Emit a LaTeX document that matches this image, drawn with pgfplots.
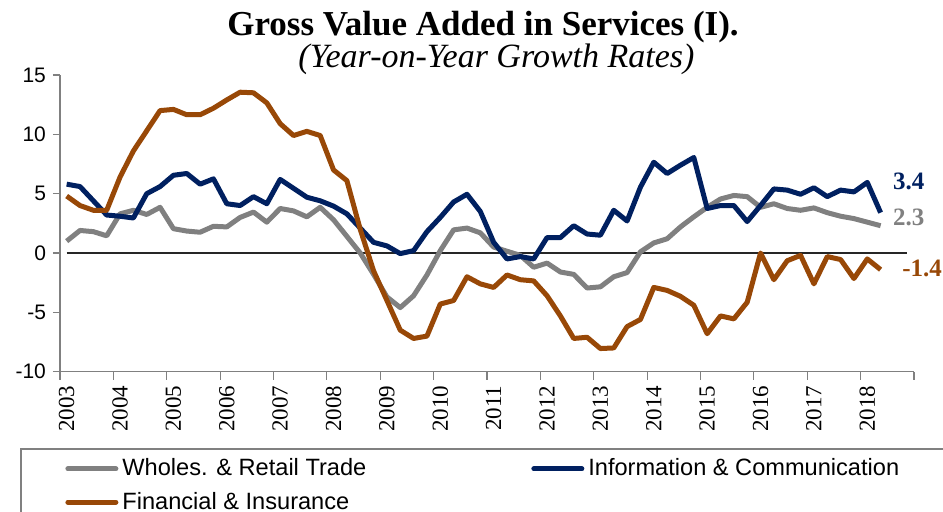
\documentclass[border=0pt]{standalone}
\usepackage{fontspec}
\usepackage{pgfplots}
\usepackage{pgfplotstable}
\pgfplotsset{compat=1.18}
\setmainfont{Liberation Serif}
\newfontfamily\arial{Liberation Sans}

\definecolor{wrgrey}{HTML}{808080}
\definecolor{icnavy}{HTML}{002060}
\definecolor{fibrown}{HTML}{984807}

% quarterly, 2003Q1 = 0
\pgfplotstableread{
k   wr     ic     fi
0   1.00   5.80   4.80
1   1.90   5.60   4.00
2   1.80   4.40   3.60
3   1.45   3.20   3.60
4   3.30   3.10   6.40
5   3.60   2.95   8.60
6   3.25   5.00   10.30
7   3.85   5.60   12.00
8   2.05   6.55   12.10
9   1.85   6.70   11.65
10  1.75   5.80   11.65
11  2.25   6.25   12.20
12  2.20   4.15   12.90
13  3.00   4.00   13.55
14  3.45   4.75   13.50
15  2.60   4.15   12.65
16  3.75   6.20   10.90
17  3.55   5.45   9.90
18  3.05   4.70   10.25
19  3.85   4.40   9.90
20  2.80   3.95   7.00
21  1.40   3.30   6.10
22  0.00   2.10   2.00
23  -1.80  0.90   -1.50
24  -3.70  0.60   -4.00
25  -4.60  -0.05  -6.50
26  -3.60  0.20   -7.20
27  -1.85  1.80   -7.00
28  0.20   3.00   -4.30
29  1.95   4.30   -4.00
30  2.10   4.95   -2.00
31  1.70   3.50   -2.60
32  0.50   0.90   -2.90
33  0.15   -0.50  -1.85
34  -0.20  -0.30  -2.25
35  -1.20  -0.50  -2.35
36  -0.85  1.30   -3.60
37  -1.60  1.30   -5.30
38  -1.80  2.30   -7.20
39  -2.95  1.60   -7.10
40  -2.85  1.50   -8.05
41  -2.00  3.60   -8.00
42  -1.65  2.70   -6.20
43  0.10   5.55   -5.60
44  0.85   7.65   -2.90
45  1.20   6.70   -3.15
46  2.20   7.40   -3.65
47  3.05   8.05   -4.40
48  3.85   3.75   -6.80
49  4.55   4.00   -5.30
50  4.85   4.00   -5.55
51  4.75   2.65   -4.15
52  3.85   4.00   0.00
53  4.15   5.40   -2.25
54  3.75   5.30   -0.65
55  3.60   4.95   -0.20
56  3.80   5.50   -2.60
57  3.40   4.75   -0.30
58  3.10   5.30   -0.55
59  2.90   5.15   -2.15
60  2.60   5.95   -0.50
61  2.30   3.40   -1.40
}\gva

\begin{document}
\begin{tikzpicture}
\path[use as bounding box] (-30pt,-70.15pt) rectangle (441.5pt,185.85pt);
\begin{axis}[
    scale only axis,
    width=427pt, height=148.35pt,
    xmin=-0.5, xmax=63.5,
    ymin=-10, ymax=15,
    clip=false,
    axis x line*=bottom,
    axis y line*=left,
    axis line style={wrgrey, line width=0.6pt},
    tick align=outside,
    xtick={0,4,...,60},
    xticklabels={2003,2004,2005,2006,2007,2008,2009,2010,2011,2012,2013,2014,2015,2016,2017,2018},
    minor xtick={-0.5,3.5,...,63.5},
    major x tick style={draw=none},
    minor x tick style={wrgrey, line width=0.6pt},
    minor tick length=4pt,
    major tick length=3.5pt,
    ytick={-10,-5,0,5,10,15},
    yticklabels={-10,-5,0,5,10,15},
    y tick style={wrgrey, line width=0.6pt},
    y tick label style={font=\arial\fontsize{10.5}{12}\selectfont},
    x tick label style={rotate=90, anchor=east, font=\fontsize{11.5}{13}\selectfont},
    legend columns=2,
    legend cell align=left,
    legend style={draw=none, fill=none,
        at={(axis description cs:0.00585,-0.279)}, anchor=north west,
        inner sep=0pt, row sep=2.5pt,
        font=\arial\fontsize{11.8}{13}\selectfont,
        /tikz/every odd column/.append style={column sep=0pt},
        /tikz/every even column/.append style={column sep=80.5pt}},
    legend image code/.code={\draw[#1, line cap=round] (0pt,0pt) -- (24pt,0pt);},
    every axis plot/.append style={line width=2.5pt, line join=round},
]
\addplot[black!85, line width=0.75pt, forget plot] coordinates {(0,0) (63,0)};
\addplot[wrgrey] table[x=k, y=wr] {\gva};
\addlegendentry{Wholes. \& Retail Trade}
\addplot[icnavy] table[x=k, y=ic] {\gva};
\addlegendentry{Information \& Communication}
\addplot[fibrown] table[x=k, y=fi] {\gva};
\addlegendentry{Financial \& Insurance}

\node[anchor=west, inner sep=0pt, text=icnavy, font=\bfseries\fontsize{12.5}{14}\selectfont] at (axis cs:61.9,6.04) {3.4};
\node[anchor=west, inner sep=0pt, text=wrgrey, font=\bfseries\fontsize{12.5}{14}\selectfont] at (axis cs:61.9,3.0) {2.3};
\node[anchor=west, inner sep=0pt, text=fibrown, font=\bfseries\fontsize{12.5}{14}\selectfont] at (axis cs:62.6,-1.29) {-1.4};

\draw[wrgrey, line width=0.75pt] (axis description cs:1.1,-0.2605) -- (axis description cs:-0.0457,-0.2605) -- (axis description cs:-0.0457,-0.55);
\end{axis}
\node[anchor=base, font=\bfseries\fontsize{17.5}{20}\selectfont] at (211.5pt,167.85pt) {Gross Value Added in Services (I).};
\node[anchor=base, font=\itshape\fontsize{17}{20}\selectfont] at (218.25pt,151.85pt) {(Year-on-Year Growth Rates)};
\end{tikzpicture}
\end{document}
